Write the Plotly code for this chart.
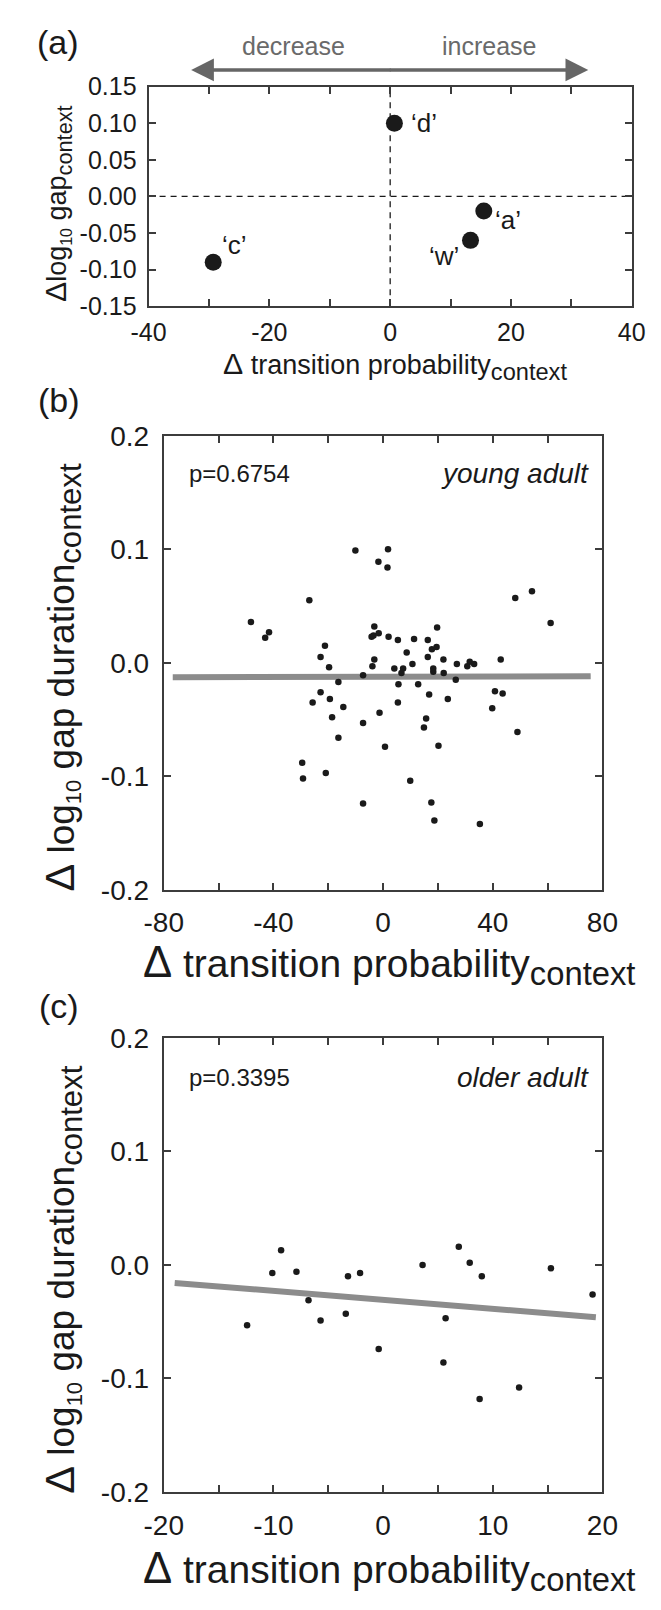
import plotly.graph_objects as go

W, H = 661, 1610
FONT = "Liberation Sans, Arial, Helvetica, sans-serif"
INK = "#1a1a1a"
AX = "#3c3c3c"
GRAY_TXT = "#6a6a6a"
FIT = "#8c8c8c"

# ---------------- data ----------------
# panel (a)
a_labels = ["\u2018d\u2019", "\u2018a\u2019", "\u2018w\u2019", "\u2018c\u2019"]
a_x = [0.7, 15.5, 13.3, -29.3]
a_y = [0.10, -0.02, -0.06, -0.09]
a_xrange = [-40, 40]
a_yrange = [-0.15, 0.15]
a_xticks = [-40, -30, -20, -10, 0, 10, 20, 30, 40]
a_xticktext = ["-40", "", "-20", "", "0", "", "20", "", "40"]
a_yticks = [-0.15, -0.10, -0.05, 0.0, 0.05, 0.10, 0.15]
a_yticktext = ["-0.15", "-0.10", "-0.05", "0.00", "0.05", "0.10", "0.15"]

# panel (b) young adult
b_x = [-10.1, 1.8, -1.7, 1.6, -26.9, 48.2, 54.3, 61.1, -48.2, -43.0,
       -41.6, -3.2, -4.2, -3.5, -1.6, 2.0, 5.4, 11.3, 16.3, 19.7,
       17.8, 19.5, 8.6, -21.2, -22.8, -19.7, -3.2, -3.9, 16.3, 22.0,
       26.9, 30.7, 31.6, 33.2, 42.9, 4.1, 7.3, 10.7, 18.3, 22.1,
       -7.3, 6.7, 18.3, -16.3, 5.6, 12.8, 26.5, -22.8, -25.7, -19.4,
       -14.5, 5.4, 16.8, 23.6, 40.8, 43.6, 39.8, -1.3, -18.6, -7.3,
       15.7, 14.9, 49.0, -16.3, 0.7, 20.2, -29.5, -29.2, -20.9, 9.9,
       -7.3, 17.6, 18.7, 35.3]
b_y = [0.099, 0.100, 0.089, 0.084, 0.055, 0.057, 0.063, 0.035, 0.036, 0.022,
       0.027, 0.032, 0.023, 0.024, 0.026, 0.023, 0.020, 0.021, 0.020, 0.031,
       0.012, 0.014, 0.009, 0.015, 0.005, -0.004, 0.003, -0.003, 0.005, 0.003,
       -0.001, -0.003, 0.001, -0.001, 0.003, -0.005, -0.005, -0.001, -0.005, -0.009,
       -0.011, -0.009, -0.008, -0.017, -0.019, -0.019, -0.015, -0.026, -0.035, -0.032,
       -0.039, -0.035, -0.028, -0.032, -0.025, -0.027, -0.040, -0.044, -0.048, -0.053,
       -0.049, -0.057, -0.061, -0.066, -0.074, -0.073, -0.088, -0.102, -0.097, -0.104,
       -0.124, -0.123, -0.139, -0.142]
b_fit_x = [-76.7, 75.7]
b_fit_y = [-0.0128, -0.0118]
b_xrange = [-80, 80]
b_xticks = [-80, -60, -40, -20, 0, 20, 40, 60, 80]
b_xticktext = ["-80", "", "-40", "", "0", "", "40", "", "80"]

# panel (c) older adult
c_x = [-12.4, -10.1, -9.3, -7.9, -6.8, -5.7, -3.4, -3.2, -2.1, -0.4,
       3.6, 5.7, 5.5, 6.9, 7.9, 9.0, 8.8, 12.4, 15.3, 19.1]
c_y = [-0.053, -0.007, 0.013, -0.006, -0.031, -0.049, -0.043, -0.010, -0.007, -0.074,
       0.000, -0.047, -0.086, 0.016, 0.002, -0.010, -0.118, -0.108, -0.003, -0.026]
c_fit_x = [-19.0, 19.4]
c_fit_y = [-0.0158, -0.046]
c_xrange = [-20, 20]
c_xticks = [-20, -15, -10, -5, 0, 5, 10, 15, 20]
c_xticktext = ["-20", "", "-10", "", "0", "", "10", "", "20"]

bc_yrange = [-0.2, 0.2]
bc_yticks = [-0.2, -0.1, 0.0, 0.1, 0.2]
bc_yticktext = ["-0.2", "-0.1", "0.0", "0.1", "0.2"]

p_texts = ["p=0.6754", "p=0.3395"]
group_texts = ["young adult", "older adult"]


# ---------------- helpers ----------------
def fx(p):
    return p / W


def fy(p):
    return 1 - p / H


def axis(fs, **kw):
    d = dict(showline=True, linecolor=AX, linewidth=2, mirror="ticks", ticks="inside",
             ticklen=7, tickwidth=1.5, tickcolor=AX, showgrid=False, zeroline=False,
             tickfont=dict(family=FONT, size=fs, color=INK), tickmode="array",
             fixedrange=True)
    d.update(kw)
    return d


def note(x, y, text, size, color=INK, xanchor="center", yanchor="middle", **kw):
    d = dict(xref="paper", yref="paper", x=fx(x), y=fy(y), text=text, showarrow=False,
             xanchor=xanchor, yanchor=yanchor,
             font=dict(size=size, family=FONT, color=color))
    d.update(kw)
    return d


fig = go.Figure()

# panel (a)
fig.add_trace(go.Scatter(x=a_x, y=a_y, mode="markers",
                         marker=dict(size=17, color=INK), xaxis="x", yaxis="y",
                         hoverinfo="skip"))
# panel (b)
fig.add_trace(go.Scatter(x=b_fit_x, y=b_fit_y, mode="lines",
                         line=dict(color=FIT, width=6), xaxis="x2", yaxis="y2"))
fig.add_trace(go.Scatter(x=b_x, y=b_y, mode="markers",
                         marker=dict(size=6.5, color=INK), xaxis="x2", yaxis="y2"))
# panel (c)
fig.add_trace(go.Scatter(x=c_fit_x, y=c_fit_y, mode="lines",
                         line=dict(color=FIT, width=6), xaxis="x3", yaxis="y3"))
fig.add_trace(go.Scatter(x=c_x, y=c_y, mode="markers",
                         marker=dict(size=6.5, color=INK), xaxis="x3", yaxis="y3"))

fig.update_layout(
    width=W, height=H, margin=dict(l=0, r=0, t=0, b=0),
    paper_bgcolor="white", plot_bgcolor="white", showlegend=False,
    font=dict(family=FONT, color=INK),
    xaxis=axis(25, domain=[fx(136), fx(647)], range=a_xrange, anchor="y",
               tickvals=a_xticks, ticktext=a_xticktext, ticklabelstandoff=3),
    yaxis=axis(25, domain=[fy(297), fy(73)], range=a_yrange, anchor="x",
               tickvals=a_yticks, ticktext=a_yticktext, ticklabelstandoff=5),
    xaxis2=axis(28, domain=[fx(152), fx(616)], range=b_xrange, anchor="y2",
                tickvals=b_xticks, ticktext=b_xticktext, ticklabelstandoff=7),
    yaxis2=axis(28, domain=[fy(892), fy(429)], range=bc_yrange, anchor="x2",
                tickvals=bc_yticks, ticktext=bc_yticktext, ticklabelstandoff=7),
    xaxis3=axis(28, domain=[fx(152), fx(616)], range=c_xrange, anchor="y3",
                tickvals=c_xticks, ticktext=c_xticktext, ticklabelstandoff=7),
    yaxis3=axis(28, domain=[fy(1506), fy(1043)], range=bc_yrange, anchor="x3",
                tickvals=bc_yticks, ticktext=bc_yticktext, ticklabelstandoff=7),
)

# dashed zero lines in panel (a)
fig.add_shape(type="line", xref="x", yref="y", x0=0, x1=0, y0=a_yrange[0], y1=a_yrange[1],
              line=dict(color=INK, width=1.3, dash="6px,5px"), layer="below")
fig.add_shape(type="line", xref="x", yref="y", x0=a_xrange[0], x1=a_xrange[1], y0=0, y1=0,
              line=dict(color=INK, width=1.3, dash="6px,5px"), layer="below")

ann = []
# point labels in (a)
shifts = [(30, 0), (24, -9), (-27, -16), (21, 17)]
for lab, x, y, (dx, dy) in zip(a_labels, a_x, a_y, shifts):
    ann.append(dict(xref="x", yref="y", x=x, y=y, text=lab, showarrow=False,
                    xanchor="center", yanchor="middle",
                    xshift=dx, yshift=dy, font=dict(size=26, family=FONT, color=INK)))

# arrows
ann.append(dict(xref="paper", yref="paper", x=fx(181), y=fy(56), ax=201, ay=0,
                axref="pixel", ayref="pixel", text="", showarrow=True,
                arrowhead=2, arrowsize=1.3, arrowwidth=3.5, arrowcolor="#666666"))
ann.append(dict(xref="paper", yref="paper", x=fx(601), y=fy(56), ax=-200, ay=0,
                axref="pixel", ayref="pixel", text="", showarrow=True,
                arrowhead=2, arrowsize=1.3, arrowwidth=3.5, arrowcolor="#666666"))
ann.append(note(289, 32, "decrease", 25, GRAY_TXT))
ann.append(note(497, 32, "increase", 25, GRAY_TXT))

# panel letters
for t, xc, yc in [("(a)", 40, 28), ("(b)", 41, 393), ("(c)", 41, 1010)]:
    ann.append(note(xc, yc, t, 34))

# axis titles
D_BIG = "<span style='font-size:112%'>\u0394</span>"
xt_a = D_BIG + " transition probability<sub><span style='font-size:125%'>context</span></sub>"
yt_a = (D_BIG + "log<sub><span style='font-size:85%'>10</span></sub> gap"
        "<sub><span style='font-size:115%'>context</span></sub>")
xt_bc = D_BIG + " transition probability<sub><span style='font-size:120%'>context</span></sub>"
yt_bc = (D_BIG + " log<sub><span style='font-size:85%'>10</span></sub> gap duration"
         "<sub><span style='font-size:120%'>context</span></sub>")

ann.append(note(397, 358, xt_a, 27))
ann.append(note(41, 192, yt_a, 27, textangle=-90))
for yc_x, yc_y in [(968, 676), (1586, 1290)]:
    ann.append(note(390, yc_x, xt_bc, 39))
    ann.append(note(45, yc_y, yt_bc, 37, textangle=-90))

# p values and group names
for pt, gt, yc in zip(p_texts, group_texts, [467, 1083]):
    ann.append(note(177, yc, pt, 24, xanchor="left"))
    ann.append(note(604, yc, "<i>" + gt + "</i>", 28, xanchor="right"))

fig.update_layout(annotations=ann)

fig.write_html("out.html", config={"displayModeBar": False},
               post_script="document.body.style.margin='0';document.body.style.overflow='hidden';")
